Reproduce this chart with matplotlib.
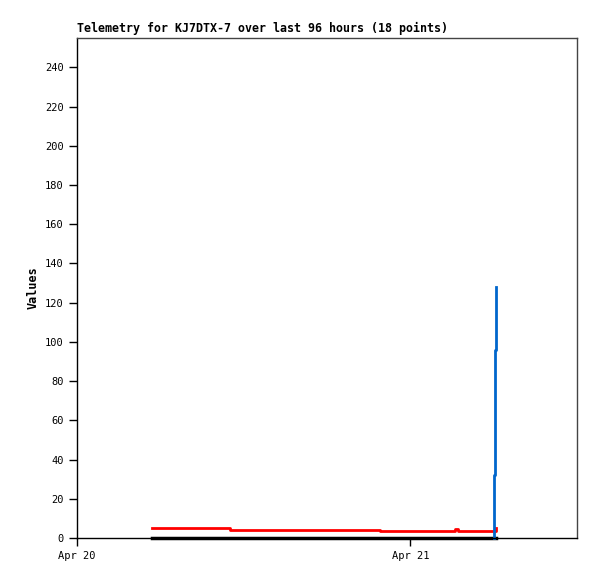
import matplotlib
matplotlib.use("Agg")
import matplotlib.pyplot as plt
import matplotlib.dates as mdates
import numpy as np
from datetime import datetime, timedelta

start = datetime(2024, 4, 20)

# hours after Apr 20 00:00
red_hours = [5.4, 11.0, 21.8, 27.2, 27.4, 30.1, 30.2]
red_vals = [4.9, 4.3, 3.8, 4.8, 3.8, 3.8, 5.3]
black_hours = [5.4, 11.0, 21.8, 27.2, 30.2]
black_vals = [0, 0, 0, 0, 0]
blue_hours = [30.0, 30.05, 30.12, 30.2]
blue_vals = [0, 32, 96, 128]

title = "Telemetry for KJ7DTX-7 over last 96 hours (18 points)"


def to_dates(hours):
    return [start + timedelta(hours=h) for h in hours]


fig = plt.figure(figsize=(5.97, 5.79), dpi=100)
ax = fig.add_axes([77 / 597, 41 / 579, 500 / 597, 500 / 579])

mono = "DejaVu Sans Mono"
ax.step(to_dates(black_hours), black_vals, where="post", color="black", linewidth=2.5, clip_on=False)
ax.step(to_dates(red_hours), red_vals, where="post", color="#ff0000", linewidth=2)
ax.step(to_dates(blue_hours), blue_vals, where="post", color="#0066cc", linewidth=2, clip_on=False)

ax.set_xlim(start, start + timedelta(hours=36))
ax.set_ylim(0, 255)
ax.set_yticks(np.arange(0, 241, 20))
ax.xaxis.set_major_locator(mdates.DayLocator())
ax.xaxis.set_major_formatter(mdates.DateFormatter("%b %d"))

ax.tick_params(direction="out", length=6, width=1, labelsize=7.5, colors="black")
for lab in ax.get_xticklabels() + ax.get_yticklabels():
    lab.set_family(mono)

ax.spines["left"].set_color("black")
ax.spines["bottom"].set_color("black")
ax.spines["top"].set_color("#444444")
ax.spines["right"].set_color("#444444")
for s in ax.spines.values():
    s.set_linewidth(1)

ax.set_ylabel("Values", family=mono, fontweight="bold", fontsize=8.5, labelpad=4)
ax.set_title(title, family=mono, fontweight="bold", fontsize=8.4, loc="left", pad=4)

fig.savefig("out.png", dpi=100)
